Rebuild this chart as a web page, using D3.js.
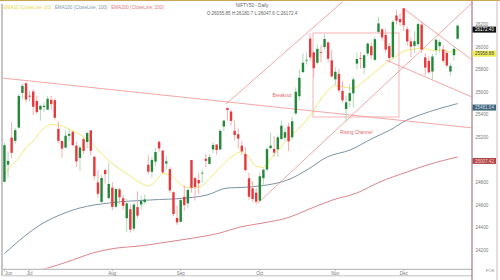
<!DOCTYPE html>
<html>
<head>
<meta charset="utf-8">
<script src="https://cdn.jsdelivr.net/npm/d3@7"></script>
<style>
  html, body { margin: 0; padding: 0; background: #fff; }
  svg { display: block; font-family: "Liberation Sans", Arial, sans-serif; }
</style>
</head>
<body>
<svg class="chart"></svg>
<script>
'use strict'

// daily candles, NIFTY50
const dates = [
  '2025-06-20', '2025-06-23', '2025-06-24', '2025-06-25', '2025-06-26', '2025-06-27', '2025-06-30',
  '2025-07-01', '2025-07-02', '2025-07-03', '2025-07-04', '2025-07-07', '2025-07-08', '2025-07-09', '2025-07-10', '2025-07-11',
  '2025-07-14', '2025-07-15', '2025-07-16', '2025-07-17', '2025-07-18', '2025-07-21', '2025-07-22', '2025-07-23', '2025-07-24',
  '2025-07-25', '2025-07-28', '2025-07-29', '2025-07-30', '2025-07-31',
  '2025-08-01', '2025-08-04', '2025-08-05', '2025-08-06', '2025-08-07', '2025-08-08', '2025-08-11', '2025-08-12', '2025-08-13',
  '2025-08-14', '2025-08-18', '2025-08-19', '2025-08-20', '2025-08-21', '2025-08-22', '2025-08-25', '2025-08-26', '2025-08-28', '2025-08-29',
  '2025-09-01', '2025-09-02', '2025-09-03', '2025-09-04', '2025-09-05', '2025-09-08', '2025-09-09', '2025-09-10', '2025-09-11',
  '2025-09-12', '2025-09-15', '2025-09-16', '2025-09-17', '2025-09-18', '2025-09-19', '2025-09-22', '2025-09-23', '2025-09-24',
  '2025-09-25', '2025-09-26', '2025-09-29', '2025-09-30',
  '2025-10-01', '2025-10-03', '2025-10-06', '2025-10-07', '2025-10-08', '2025-10-09', '2025-10-10', '2025-10-13', '2025-10-14',
  '2025-10-15', '2025-10-16', '2025-10-17', '2025-10-20', '2025-10-21', '2025-10-23', '2025-10-24', '2025-10-27', '2025-10-28',
  '2025-10-29', '2025-10-30', '2025-10-31',
  '2025-11-03', '2025-11-04', '2025-11-06', '2025-11-07', '2025-11-10', '2025-11-11', '2025-11-12', '2025-11-13', '2025-11-14',
  '2025-11-17', '2025-11-18', '2025-11-19', '2025-11-20', '2025-11-21', '2025-11-24', '2025-11-25', '2025-11-26', '2025-11-27', '2025-11-28',
  '2025-12-01', '2025-12-02', '2025-12-03', '2025-12-04', '2025-12-05', '2025-12-08', '2025-12-09', '2025-12-10', '2025-12-11',
  '2025-12-12', '2025-12-15', '2025-12-16', '2025-12-17', '2025-12-18', '2025-12-19', '2025-12-22'
]

const open = [
  24787, 24939, 25179, 25150, 25268, 25576, 25661,
  25551, 25588, 25505, 25427, 25450, 25427, 25514, 25511, 25256,
  25149, 25090, 25196, 25230, 25108, 24999, 25166, 25140, 25243,
  25010, 24782, 24609, 24891, 24642,
  24735, 24566, 24720, 24641, 24464, 24544, 24372, 24563, 24586,
  24607, 24938, 24876, 24966, 25142, 25065, 24949, 24899, 24695, 24466,
  24432, 24654, 24596, 24980, 24819, 24803, 24864, 24991, 24946,
  25074, 25118, 25074, 25277, 25441, 25410, 25239, 25209, 25108,
  25034, 24818, 24729, 24691,
  24620, 24819, 24896, 25086, 25079, 25075, 25167, 25178, 25277,
  25182, 25394, 25546, 25760, 25868, 26057, 25935, 25843, 25939,
  25982, 26023, 25864,
  25696, 25744, 25593, 25433, 25504, 25572, 25835, 25884, 25798,
  25925, 25990, 25869, 26117, 26140, 26090, 25990, 25893, 26262, 26230,
  26326, 26141, 26032, 25993, 26008, 26181, 25890, 25860, 25765,
  25955, 25990, 25960, 25930, 25765, 25910, 26055.85
]

const high = [
  25137, 25057, 25318, 25266, 25565, 25654, 25669,
  25593, 25608, 25548, 25470, 25489, 25548, 25548, 25525, 25322,
  25151, 25245, 25255, 25238, 25145, 25111, 25182, 25233, 25246,
  25010, 24889, 24848, 24903, 24956,
  24784, 24734, 24733, 24671, 24634, 24586, 24602, 24702, 24664,
  24674, 25022, 25012, 25089, 25154, 25065, 25022, 24920, 24702, 24572,
  24636, 24756, 24724, 24981, 24832, 24865, 24891, 25035, 25037,
  25139, 25119, 25253, 25332, 25449, 25429, 25331, 25261, 25150,
  25092, 24868, 24791, 24731,
  24868, 24904, 25095, 25220, 25192, 25199, 25330, 25267, 25310,
  25365, 25625, 25781, 25926, 25934, 26104, 25944, 26005, 25998,
  26097, 26032, 25954,
  25803, 25788, 25679, 25551, 25653, 25718, 25934, 25940, 25923,
  26023, 26022, 26074, 26247, 26150, 26143, 26018, 26225, 26310, 26280,
  26326, 26164, 26066, 26121, 26202, 26207, 25925, 25900, 25922,
  26058, 26050, 26000, 25950, 25840, 25990, 26180.7
]

const low = [
  24784, 24825, 24999, 25125, 25259, 25523, 25489,
  25501, 25378, 25390, 25331, 25407, 25425, 25424, 25340, 25129,
  25001, 25088, 25145, 25101, 24918, 24882, 25035, 25085, 25018,
  24806, 24646, 24599, 24772, 24635,
  24535, 24554, 24590, 24539, 24344, 24337, 24347, 24465, 24539,
  24588, 24853, 24825, 24929, 25054, 24859, 24894, 24689, 24481, 24404,
  24432, 24529, 24553, 24690, 24621, 24679, 24783, 24915, 24940,
  25038, 25026, 25070, 25233, 25330, 25286, 25151, 25084, 25027,
  24878, 24629, 24606, 24588,
  24606, 24747, 24881, 25076, 25009, 25009, 25157, 25152, 25060,
  25160, 25377, 25508, 25750, 25825, 25862, 25718, 25827, 25845,
  25960, 25845, 25711,
  25645, 25578, 25491, 25318, 25449, 25447, 25785, 25790, 25741,
  25904, 25876, 25856, 26104, 26038, 25932, 25842, 25878, 26181, 26171,
  26124, 25992, 25892, 25926, 25985, 25929, 25728, 25745, 25695,
  25908, 25930, 25840, 25800, 25726, 25860, 26047.6
]

const close = [
  25112, 24972, 25044, 25245, 25549, 25638, 25517,
  25542, 25453, 25405, 25461, 25461, 25523, 25476, 25355, 25150,
  25082, 25196, 25212, 25112, 24968, 25091, 25061, 25220, 25062,
  24837, 24681, 24821, 24855, 24768,
  24565, 24723, 24650, 24574, 24596, 24363, 24585, 24487, 24619,
  24631, 24877, 24981, 25051, 25083, 24870, 24968, 24712, 24501, 24427,
  24625, 24580, 24715, 24734, 24741, 24773, 24868, 24973, 25006,
  25114, 25069, 25239, 25330, 25424, 25327, 25202, 25170, 25057,
  24891, 24655, 24635, 24611,
  24836, 24894, 25077, 25108, 25046, 25182, 25285, 25227, 25146,
  25324, 25586, 25710, 25843, 25869, 25891, 25795, 25966, 25936,
  26054, 25878, 25722,
  25763, 25598, 25510, 25492, 25574, 25695, 25876, 25879, 25910,
  26013, 25910, 26052, 26192, 26068, 25960, 25885, 26205, 26216, 26203,
  26176, 26032, 25986, 26034, 26186, 25960, 25800, 25758, 25898,
  26047, 26027, 25860, 25818, 25815, 25966, 26172.4
]

// moving averages: [candle index, value]
const ema20 = [
  [0, 24850], [2, 24930], [4, 25000], [6, 25090], [8, 25150], [10, 25230], [13, 25295], [15, 25290],
  [18, 25255], [21, 25205], [24, 25140], [26, 25070], [29, 24975], [34, 24860], [38, 24775], [40, 24750],
  [42, 24790], [44, 24860], [46, 24850], [49, 24765], [51, 24735], [54, 24740], [57, 24815], [60, 24915],
  [63, 25005], [66, 25055], [68, 25000], [70, 24925], [72, 24915], [74, 24990], [78, 25140], [84, 25335],
  [86, 25420], [88, 25520], [90, 25600], [92, 25640], [95, 25625], [97, 25615], [100, 25680], [103, 25760],
  [106, 25840], [109, 25900], [111, 25945], [114, 25965], [116, 25975], [119, 25955], [122, 25955],
  [124, 25938], [126, 25958]
]

const ema100 = [
  [0, 24150], [4.3, 24271], [9.9, 24404], [15.4, 24493], [21, 24555], [29.3, 24600], [40.5, 24626],
  [50.8, 24644], [56.3, 24670], [61.9, 24732], [68.3, 24741], [71, 24750], [79.4, 24812], [84.1, 24892],
  [89.7, 25007], [96.1, 25069], [102.5, 25175], [107.2, 25246], [111.9, 25335], [115.5, 25380], [126, 25481]
]

const ema200 = [
  [6, 23975], [12.1, 24023], [17.4, 24076], [24.6, 24156], [31.3, 24200], [37.7, 24218], [45.2, 24253],
  [52.4, 24288], [59.9, 24333], [65.5, 24386], [71.9, 24422], [79.4, 24475], [84.1, 24537], [91.3, 24626],
  [98, 24688], [104.4, 24786], [111.9, 24874], [117.5, 24936], [126, 25007]
]

// drawn studies: [index, price] end points
const trendLines = [
  [[-1.3, 25710], [130, 25265]],
  [[61.6, 25477], [94.1, 26386]],
  [[70.5, 24599], [130, 26373]],
  [[106.1, 25867], [130, 25539]],
  [[110.8, 26329], [130, 25867]]
]
const boxStudy = { i0: 85.8, i1: 109.7, top: 26107, bottom: 25362 }
const notes = [
  { text: 'Breakout', i: 77.2, v: 25540, anchor: 'middle' },
  { text: 'Rising Channel', i: 93.3, v: 25211, anchor: 'start' }
]

const yTicks = [24200, 24400, 24600, 24800, 25000, 25200, 25400, 25600, 25800, 26000, 26200]
const monthNames = ['Jun', 'Jul', 'Aug', 'Sep', 'Oct', 'Nov', 'Dec']

const legendItems = [
  { text: 'EMA20 (CloseLine, 20)', color: '#e6d84a' },
  { text: 'EMA100 (CloseLine, 100)', color: '#7f97a6' },
  { text: 'EMA200 (CloseLine, 200)', color: '#e07a84' }
]
const priceTags = [
  { v: 26172.40, label: '26172.40', fill: '#111', text: '#fff' },
  { v: 25958.88, label: '25958.88', fill: '#eeee55', text: '#444' },
  { v: 25481.04, label: '25481.04', fill: '#3f6678', text: '#dde' },
  { v: 25007.42, label: '25007.42', fill: '#b04a4a', text: '#f3d0d0' }
]

const width = 500
const height = 280
const plot = { left: 3, right: 472, top: 2, bottom: 268.5 }

const svg = d3.select('.chart')
  .attr('width', width)
  .attr('height', height)

const x = d3.scaleLinear().domain([-0.4, 130]).range([plot.left, plot.right])
const y = d3.scaleLinear().domain([24200, 26200]).range([248, 22.5])

svg.append('defs').append('clipPath')
  .attr('id', 'plotclip')
  .append('rect')
  .attr('x', plot.left)
  .attr('y', plot.top)
  .attr('width', plot.right - plot.left)
  .attr('height', plot.bottom - plot.top)

// frame
svg.append('line').attr('x1', 0).attr('x2', width).attr('y1', 0.5).attr('y2', 0.5)
  .attr('stroke', '#c9a55a').attr('stroke-width', 1)
svg.append('line').attr('x1', 2).attr('x2', 2).attr('y1', 4).attr('y2', 276)
  .attr('stroke', '#a8a8a8').attr('stroke-width', 1.3)
svg.append('line').attr('x1', plot.left).attr('x2', plot.right).attr('y1', 269.3).attr('y2', 269.3)
  .attr('stroke', '#9a9a9a').attr('stroke-width', 0.8)
svg.append('line').attr('x1', plot.left).attr('x2', plot.right).attr('y1', 275.8).attr('y2', 275.8)
  .attr('stroke', '#b0b0b0').attr('stroke-width', 0.8)
svg.append('line').attr('x1', 472).attr('x2', 472).attr('y1', 1).attr('y2', 280)
  .attr('stroke', '#94606c').attr('stroke-width', 1)
svg.append('line').attr('x1', 497).attr('x2', 497).attr('y1', 1).attr('y2', 280)
  .attr('stroke', '#d6b6bd').attr('stroke-width', 1)

const g = svg.append('g').attr('clip-path', 'url(#plotclip)')

// moving averages
const maLine = d3.line()
  .x(d => x(d[0]))
  .y(d => y(d[1]))
  .curve(d3.curveMonotoneX)

g.append('path').datum(ema200).attr('d', maLine)
  .attr('fill', 'none').attr('stroke', '#d9767e').attr('stroke-width', 0.9)
g.append('path').datum(ema100).attr('d', maLine)
  .attr('fill', 'none').attr('stroke', '#6c8898').attr('stroke-width', 0.9)
g.append('path').datum(ema20).attr('d', maLine)
  .attr('fill', 'none').attr('stroke', '#f0e464').attr('stroke-width', 0.9)

// studies
g.selectAll('.trend')
  .data(trendLines)
  .enter()
  .append('line')
  .attr('class', 'trend')
  .attr('x1', d => x(d[0][0])).attr('y1', d => y(d[0][1]))
  .attr('x2', d => x(d[1][0])).attr('y2', d => y(d[1][1]))
  .attr('stroke', '#f08f8f').attr('stroke-width', 0.8)

g.append('rect')
  .attr('x', x(boxStudy.i0))
  .attr('y', y(boxStudy.top))
  .attr('width', x(boxStudy.i1) - x(boxStudy.i0))
  .attr('height', y(boxStudy.bottom) - y(boxStudy.top))
  .attr('fill', 'none').attr('stroke', '#f2a2a2').attr('stroke-width', 0.8)

// candles
const candles = dates.map((d, i) => ({ i, o: open[i], h: high[i], l: low[i], c: close[i] }))
const up = d => d.c >= d.o

g.selectAll('.wick')
  .data(candles)
  .enter()
  .append('line')
  .attr('class', 'wick')
  .attr('x1', d => x(d.i)).attr('x2', d => x(d.i))
  .attr('y1', d => y(d.h)).attr('y2', d => y(d.l))
  .attr('stroke', d => up(d) ? '#a6d6ae' : '#f3a6a6')
  .attr('stroke-width', 0.9)

g.selectAll('.body')
  .data(candles)
  .enter()
  .append('rect')
  .attr('class', 'body')
  .attr('x', d => x(d.i) - 1.2)
  .attr('width', 2.4)
  .attr('y', d => y(Math.max(d.o, d.c)))
  .attr('height', d => Math.max(0.8, Math.abs(y(d.o) - y(d.c))))
  .attr('fill', d => up(d) ? '#23883a' : '#e5393d')

// notes
g.selectAll('.note')
  .data(notes)
  .enter()
  .append('text')
  .attr('x', d => x(d.i))
  .attr('y', d => y(d.v))
  .attr('text-anchor', d => d.anchor)
  .attr('font-size', 4.8)
  .attr('fill', '#e06a6a')
  .text(d => d.text)

// price axis: a tag sitting on a tick hides its label
const hidden = v => priceTags.some(t => {
  const dy = (y(v) + 2) - (y(t.v) + 4)
  return dy > -3.5 && dy < 5
})
svg.selectAll('.ytick')
  .data(yTicks.filter(v => !hidden(v)))
  .enter()
  .append('text')
  .attr('x', 475.5)
  .attr('y', d => y(d) + 3.6)
  .attr('font-size', 4.6)
  .attr('fill', '#7a7a7a')
  .text(d => d)

const tags = svg.selectAll('.tag')
  .data(priceTags)
  .enter()
  .append('g')
  .attr('transform', d => `translate(472.5,${y(d.v) + 1})`)
tags.append('rect')
  .attr('width', 23.5).attr('height', 6)
  .attr('fill', d => d.fill)
tags.append('text')
  .attr('x', 12).attr('y', 4.6)
  .attr('text-anchor', 'middle')
  .attr('font-size', 4.5)
  .attr('fill', d => d.text)
  .text(d => d.label)

svg.append('text').attr('x', 486).attr('y', 271.5)
  .attr('font-size', 4.2).attr('fill', '#8a8a8a').text('FOK')

// time axis
const monthTicks = monthNames.map(m => {
  const i = dates.findIndex(d => monthNames[+d.slice(5, 7) - 6] === m)
  return { m, i }
})
svg.selectAll('.xtick')
  .data(monthTicks)
  .enter()
  .append('line')
  .attr('x1', d => x(d.i)).attr('x2', d => x(d.i))
  .attr('y1', 269.3).attr('y2', 271.3)
  .attr('stroke', '#9a9a9a').attr('stroke-width', 0.6)
svg.selectAll('.xlabel')
  .data(monthTicks)
  .enter()
  .append('text')
  .attr('x', d => d.i === 0 ? x(d.i) + 0.5 : x(d.i))
  .attr('y', 274.6)
  .attr('text-anchor', d => d.i === 0 ? 'start' : 'middle')
  .attr('font-size', 4.5)
  .attr('fill', '#777')
  .text(d => d.m)

// legend
let lx = 3.5
legendItems.forEach(item => {
  const t = svg.append('text')
    .attr('x', lx).attr('y', 8.6)
    .attr('font-size', 4.6)
    .attr('fill', item.color)
    .text(item.text)
  lx += t.node().getComputedTextLength() + 3.8
})

// header
svg.append('text').attr('x', 252).attr('y', 6.6)
  .attr('text-anchor', 'middle').attr('font-size', 4.6).attr('fill', '#666')
  .text('NIFTY50 - Daily')
svg.append('text').attr('x', 252).attr('y', 15)
  .attr('text-anchor', 'middle').attr('font-size', 4.6).attr('fill', '#666')
  .text('O:26055.85 H:26180.7 L:26047.6 C:26172.4')
</script>
</body>
</html>
